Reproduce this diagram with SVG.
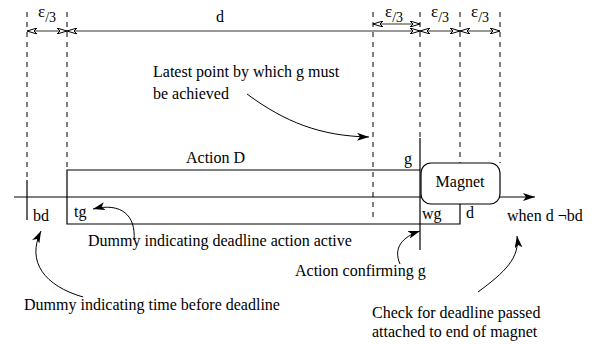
<svg xmlns="http://www.w3.org/2000/svg" width="592" height="345" viewBox="0 0 592 345">
  <style>
    text { font-family: "Liberation Serif", "Times New Roman", serif; font-size: 16px; fill: #000; }
    .eps { font-size: 17px; }
    .sub { font-size: 14px; }
    .dash { stroke: #000; stroke-width: 1; stroke-dasharray: 5 5; fill: none; }
    .solid { stroke: #000; stroke-width: 1.2; fill: none; }
    .dim { stroke: #333; stroke-width: 1.2; fill: none; marker-start: url(#open); marker-end: url(#open); }
    .lead { stroke: #000; stroke-width: 1; fill: none; marker-end: url(#filled); }
  </style>
  <defs>
    <marker id="open" viewBox="0 0 10 6" refX="10" refY="3" markerWidth="10" markerHeight="6" markerUnits="userSpaceOnUse" orient="auto-start-reverse">
      <path d="M0,0 L10,3 L0,6 L3,3 z" fill="#fff" stroke="#000" stroke-width="1"/>
    </marker>
    <marker id="filled" viewBox="0 0 12 8" refX="12" refY="4" markerWidth="12" markerHeight="8" markerUnits="userSpaceOnUse" orient="auto">
      <path d="M0,0 L12,4 L0,8 L3,4 z" fill="#000"/>
    </marker>
  </defs>

  <!-- time guides -->
  <g id="guides">
    <line class="dash" x1="27" y1="12" x2="27" y2="180"/>
    <line class="dash" x1="67" y1="12" x2="67" y2="170"/>
    <line class="dash" x1="373" y1="12" x2="373" y2="218"/>
    <line class="dash" x1="420" y1="12" x2="420" y2="138"/>
    <line class="dash" x1="460" y1="12" x2="460" y2="163"/>
    <line class="dash" x1="500" y1="12" x2="500" y2="163"/>
  </g>

  <!-- interval dimensions -->
  <g id="dimensions">
    <line class="dim" x1="27" y1="31" x2="67" y2="31"/>
    <line class="dim" x1="67" y1="31" x2="420" y2="31"/>
    <line class="dim" x1="373" y1="24" x2="420" y2="24"/>
    <line class="dim" x1="420" y1="31" x2="460" y2="31"/>
    <line class="dim" x1="460" y1="31" x2="500" y2="31"/>
    <text class="eps" x="38" y="17">ε<tspan class="sub" dy="5">/3</tspan></text>
    <text x="216" y="22">d</text>
    <text class="eps" x="385" y="17">ε<tspan class="sub" dy="5">/3</tspan></text>
    <text class="eps" x="431" y="17">ε<tspan class="sub" dy="5">/3</tspan></text>
    <text class="eps" x="471" y="17">ε<tspan class="sub" dy="5">/3</tspan></text>
  </g>

  <!-- timeline -->
  <g id="timeline">
    <line class="solid" x1="14" y1="197" x2="535" y2="197" marker-end="url(#filled)"/>
    <line class="solid" x1="27" y1="180" x2="27" y2="220"/>
    <line class="solid" x1="420" y1="138" x2="420" y2="250"/>
  </g>

  <!-- action D -->
  <g id="actionD">
    <polyline class="solid" points="420,170 67,170 67,224 460,224 460,204"/>
    <text x="186" y="163">Action D</text>
    <text x="404" y="164">g</text>
    <text x="74" y="217">tg</text>
    <text x="422" y="219">wg</text>
    <text x="466" y="218">d</text>
  </g>

  <!-- magnet -->
  <g id="magnet">
    <rect x="421" y="163" width="79" height="41" rx="10" ry="10" fill="#fff" stroke="#000" stroke-width="1.2"/>
    <text x="460" y="187" text-anchor="middle">Magnet</text>
  </g>

  <g id="bd">
    <text x="33" y="221">bd</text>
  </g>
  <g id="when">
    <text x="507" y="221">when d ¬bd</text>
  </g>

  <!-- annotations -->
  <g id="note-latest">
    <text x="153" y="77">Latest point by which g must</text>
    <text x="153" y="99">be achieved</text>
  </g>
  <g id="note-dummy-active">
    <text x="88" y="246">Dummy indicating deadline action active</text>
  </g>
  <g id="note-confirm">
    <text x="295" y="276">Action confirming g</text>
  </g>
  <g id="note-dummy-before">
    <text x="24" y="310">Dummy indicating time before deadline</text>
  </g>
  <g id="note-check">
    <text x="372" y="318">Check for deadline passed</text>
    <text x="372" y="337">attached to end of magnet</text>
  </g>

  <!-- leader arrows -->
  <g id="connectors">
    <path class="lead" d="M247,94 C285,122 320,136 369,137"/>
    <path class="lead" d="M134,240 C136,216 122,202 93,209"/>
    <path class="lead" d="M83,297 C45,286 26,262 41,231"/>
    <path class="lead" d="M400,264 C393,248 402,237 420,231"/>
    <path class="lead" d="M478,292 C505,272 520,258 517,236"/>
  </g>
</svg>
